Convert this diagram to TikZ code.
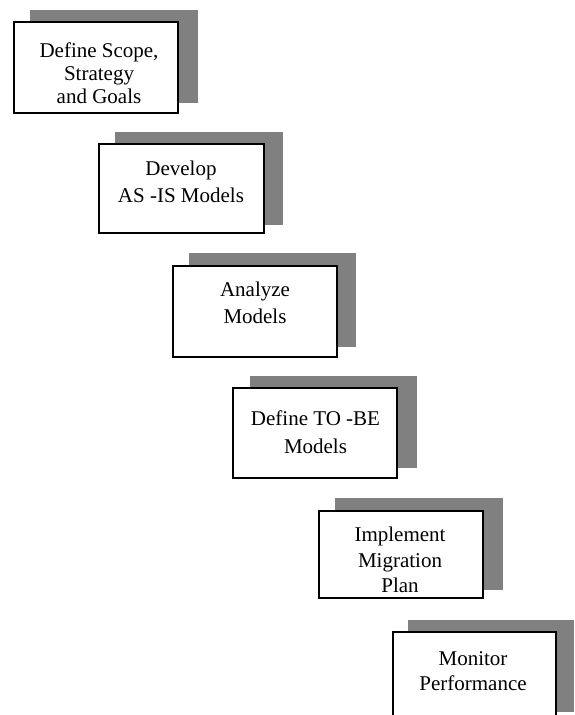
\documentclass[tikz,border=0pt]{standalone}
\usepackage{fontspec}
\setmainfont{Liberation Serif}
\begin{document}
\begin{tikzpicture}[x=1pt,y=-1pt,
  shadowbox/.style={fill=shadowgray,draw=none,inner sep=0pt,outer sep=0pt},
  stepbox/.style={fill=white,draw=black,line width=1.3pt,inner sep=0pt,outer sep=0pt},
  lbl/.style={align=center,inner sep=0pt,anchor=base,font=\fontsize{21}{23}\selectfont}]
\definecolor{shadowgray}{RGB}{128,128,128}
\useasboundingbox (0,0) rectangle (575,715);
\clip (0,0) rectangle (575,715);
% shadows
\node[shadowbox,minimum width=168pt,minimum height=93pt] (s1) at (114,56.5) {};
\node[shadowbox,minimum width=168pt,minimum height=93pt] (s2) at (199,178.5) {};
\node[shadowbox,minimum width=167pt,minimum height=94pt] (s3) at (272.5,300) {};
\node[shadowbox,minimum width=167pt,minimum height=92pt] (s4) at (333.5,422) {};
\node[shadowbox,minimum width=168pt,minimum height=92pt] (s5) at (419,544) {};
\node[shadowbox,minimum width=166pt,minimum height=92pt] (s6) at (491,666) {};
% boxes
\node[stepbox,minimum width=164pt,minimum height=91pt] (b1) at (96,67.5) {};
\node[stepbox,minimum width=165pt,minimum height=89pt] (b2) at (181.5,188.5) {};
\node[stepbox,minimum width=164pt,minimum height=91pt] (b3) at (255,311.5) {};
\node[stepbox,minimum width=164pt,minimum height=90pt] (b4) at (315,433) {};
\node[stepbox,minimum width=164pt,minimum height=87pt] (b5) at (401,554.5) {};
\node[stepbox,minimum width=163pt,minimum height=90pt] (b6) at (474.5,677) {};
% labels (anchored at the baseline of their last line)
\node[lbl] (t1) at (99,103) {Define Scope,\\Strategy\\and Goals};
\node[lbl] (t2) at (181,202) {Develop\\[4pt]AS -IS Models};
\node[lbl] (t3) at (255,323) {Analyze\\[4pt]Models};
\node[lbl] (t4) at (315.5,453) {Define TO -BE\\[5pt]Models};
\node[lbl] (t5) at (400,592) {Implement\\[3pt]Migration\\[2pt]Plan};
\node[lbl] (t6) at (473,690) {Monitor\\[2pt]Performance};
\end{tikzpicture}
\end{document}
